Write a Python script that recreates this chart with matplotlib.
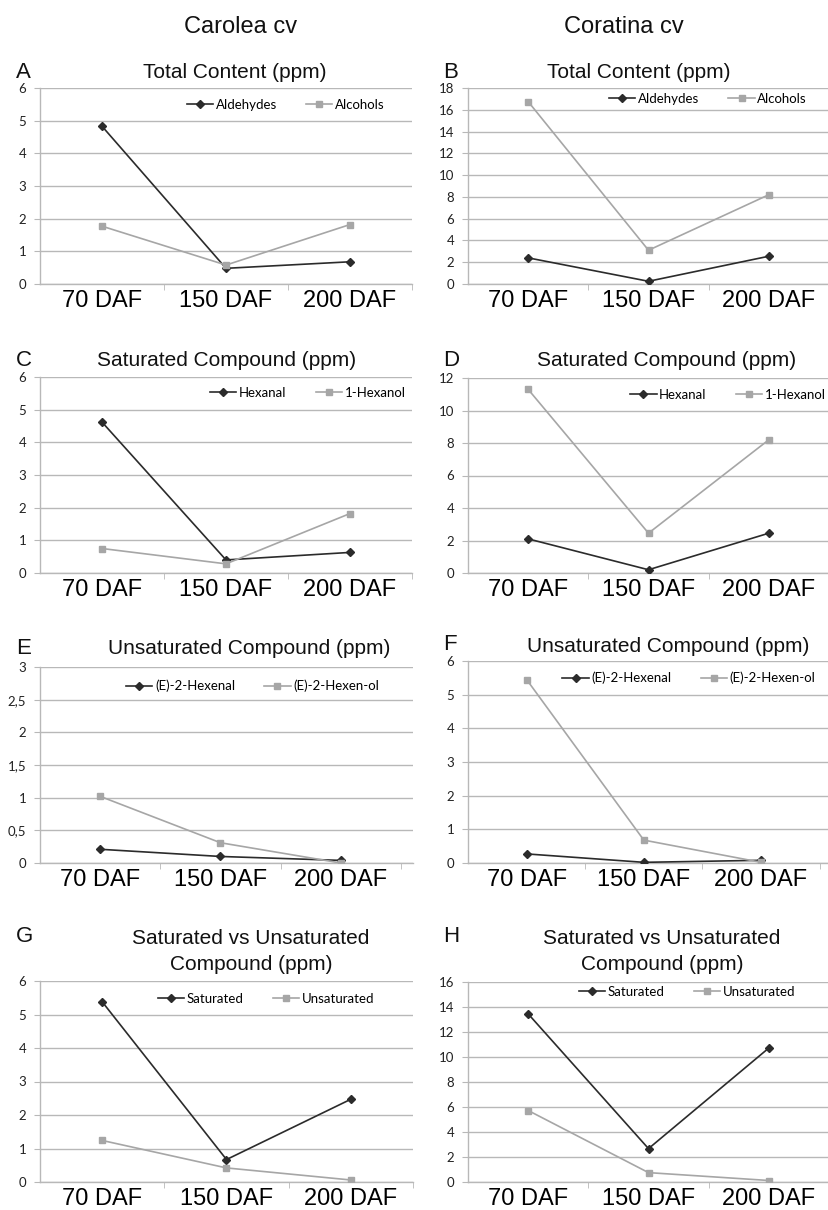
import numpy as np
import matplotlib
matplotlib.use("Agg")
import matplotlib.pyplot as plt

# sampling stages
stages = ["70 DAF", "150 DAF", "200 DAF"]

# A - Carolea, total content
carolea_aldehydes = [4.83, 0.48, 0.68]
carolea_alcohols = [1.77, 0.58, 1.82]
# B - Coratina, total content
coratina_aldehydes = [2.40, 0.25, 2.55]
coratina_alcohols = [16.75, 3.10, 8.20]
# C - Carolea, saturated
carolea_hexanal = [4.62, 0.40, 0.63]
carolea_hexanol = [0.75, 0.28, 1.82]
# D - Coratina, saturated
coratina_hexanal = [2.10, 0.20, 2.45]
coratina_hexanol = [11.30, 2.45, 8.20]
# E - Carolea, unsaturated
carolea_hexenal = [0.21, 0.10, 0.04]
carolea_hexenol = [1.02, 0.31, 0.00]
# F - Coratina, unsaturated
coratina_hexenal = [0.27, 0.02, 0.08]
coratina_hexenol = [5.45, 0.68, 0.02]
# G - Carolea, saturated vs unsaturated
carolea_sat = [5.38, 0.67, 2.47]
carolea_unsat = [1.24, 0.42, 0.06]
# H - Coratina, saturated vs unsaturated
coratina_sat = [13.45, 2.67, 10.72]
coratina_unsat = [5.72, 0.75, 0.12]

yticks_e = [0, 0.5, 1, 1.5, 2, 2.5, 3]
yticklabels_e = ["0", "0,5", "1", "1,5", "2", "2,5", "3"]

W, H = 829, 1210
fig = plt.figure(figsize=(W / 100, H / 100), dpi=100)

DARK = "#2b2b2b"
LIGHT = "#a6a6a6"
GRID = "#b8b8b8"
HEAD = "Liberation Sans"
SMALL = "Lato"


def rect(l, r, t, b):
    return [l / W, 1 - b / H, (r - l) / W, (b - t) / H]


def panel(box, xmax, s1, s2, names, ymax, ystep, leg_xy, yticks=None, ylabels=None):
    ax = fig.add_axes(rect(*box))
    x = np.arange(len(stages))
    ax.plot(x, s1, color=DARK, lw=1.2, marker="D", ms=4.2, label=names[0], zorder=3)
    ax.plot(x, s2, color=LIGHT, lw=1.2, marker="s", ms=5, label=names[1], zorder=3)
    ax.set_xlim(-0.5, xmax)
    ax.set_ylim(0, ymax)
    if yticks is None:
        yticks = np.arange(0, ymax + ystep / 2, ystep)
        ylabels = [f"{v:g}" for v in yticks]
    ax.set_yticks(yticks)
    ax.set_yticklabels(ylabels, fontfamily=SMALL, fontsize=9.5, color="#222222")
    ax.set_xticks(x)
    ax.set_xticklabels(stages, fontfamily=HEAD, fontsize=17)
    ax.set_xticks([0.5, 1.5, 2.5], minor=True)
    ax.tick_params(axis="x", which="major", length=0, pad=4)
    ax.tick_params(axis="x", which="minor", length=4, color=GRID, direction="out")
    ax.tick_params(axis="y", length=4, color=GRID, pad=6)
    ax.grid(axis="y", color=GRID, lw=1)
    ax.set_axisbelow(True)
    for side in ("top", "right"):
        ax.spines[side].set_visible(False)
    for side in ("left", "bottom"):
        ax.spines[side].set_color(GRID)
        ax.spines[side].set_linewidth(1)
    ax.legend(loc="center", bbox_to_anchor=leg_xy, ncol=2, frameon=False,
              prop={"family": SMALL, "size": 9.5}, handlelength=2.0,
              handletextpad=0.2, columnspacing=2.2, borderaxespad=0)
    return ax


panel((40, 412, 88, 284), 2.32, carolea_aldehydes, carolea_alcohols,
      ("Aldehydes", "Alcohols"), 6, 1, (0.66, 0.913))
panel((468, 829, 88, 284), 2.28, coratina_aldehydes, coratina_alcohols,
      ("Aldehydes", "Alcohols"), 18, 2, (0.665, 0.944))
panel((40, 412, 377, 573), 2.32, carolea_hexanal, carolea_hexanol,
      ("Hexanal", "1-Hexanol"), 6, 1, (0.72, 0.918))
panel((468, 829, 378, 573), 2.28, coratina_hexanal, coratina_hexanol,
      ("Hexanal", "1-Hexanol"), 12, 2, (0.72, 0.913))
panel((40, 413, 667, 863), 2.6, carolea_hexenal, carolea_hexenol,
      ("(E)-2-Hexenal", "(E)-2-Hexen-ol"), 3, 0.5, (0.57, 0.903),
      yticks=yticks_e, ylabels=yticklabels_e)
panel((468, 829, 661, 863), 2.58, coratina_hexenal, coratina_hexenol,
      ("(E)-2-Hexenal", "(E)-2-Hexen-ol"), 6, 1, (0.612, 0.916))
panel((40, 413, 981, 1182), 2.41, carolea_sat, carolea_unsat,
      ("Saturated", "Unsaturated"), 6, 1, (0.606, 0.91))
panel((468, 829, 982, 1182), 2.36, coratina_sat, coratina_unsat,
      ("Saturated", "Unsaturated"), 16, 2, (0.607, 0.95))


def ftext(x, y, s, size=15, ha="center"):
    fig.text(x / W, 1 - y / H, s, ha=ha, va="center", fontsize=size,
             fontfamily=HEAD, color="#111111")


# column headers
ftext(241, 27, "Carolea cv", 17)
ftext(624, 27, "Coratina cv", 17)

# panel titles
ftext(235, 72, "Total Content (ppm)")
ftext(639, 72, "Total Content (ppm)")
ftext(227, 360, "Saturated Compound (ppm)")
ftext(667, 360, "Saturated Compound (ppm)")
ftext(249, 648, "Unsaturated Compound (ppm)")
ftext(668, 646, "Unsaturated Compound (ppm)")
ftext(251, 939, "Saturated vs Unsaturated")
ftext(251, 965, "Compound (ppm)")
ftext(662, 939, "Saturated vs Unsaturated")
ftext(662, 965, "Compound (ppm)")

# panel letters
for letter, x, y in [("A", 16, 72), ("B", 443, 72), ("C", 16, 360), ("D", 443, 360),
                     ("E", 16, 648), ("F", 443, 644), ("G", 16, 937), ("H", 443, 937)]:
    ftext(x, y, letter, 16, ha="left")

fig.savefig("out.png", dpi=100)
